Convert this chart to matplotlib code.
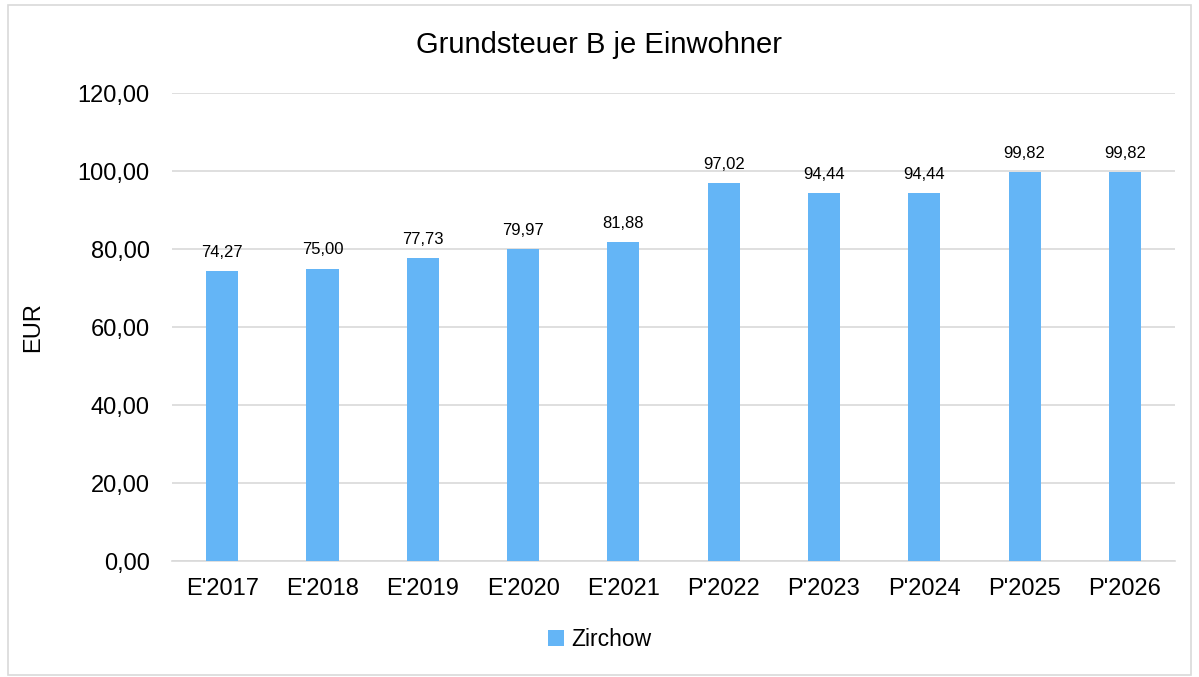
import matplotlib.pyplot as plt
from matplotlib.patches import Rectangle

plt.rcParams['font.family'] = ['Liberation Sans', 'DejaVu Sans']

categories = ["E'2017", "E'2018", "E'2019", "E'2020", "E'2021",
              "P'2022", "P'2023", "P'2024", "P'2025", "P'2026"]
values = [74.27, 75.00, 77.73, 79.97, 81.88, 97.02, 94.44, 94.44, 99.82, 99.82]
series_name = "Zirchow"
yticks = [0, 20, 40, 60, 80, 100, 120]

bar_color = "#64B5F6"
grid_color = "#D9D9D9"


def de_num(v):
    return f"{v:.2f}".replace(".", ",")


fig = plt.figure(figsize=(11.99, 6.77), dpi=100)
ax = fig.add_axes([0.1435, 0.1713, 0.8365, 0.6913])

x = list(range(len(categories)))
bars = ax.bar(x, values, width=0.32, color=bar_color, label=series_name, zorder=3)

for xi, v in zip(x, values):
    ax.annotate(de_num(v), (xi, v), xytext=(0, 8), textcoords="offset points",
                ha="center", va="bottom", fontsize=12, color="#000000")

ax.set_xlim(-0.5, len(categories) - 0.5)
ax.set_ylim(0, 120)
ax.set_yticks(yticks)
ax.set_yticklabels([de_num(t) for t in yticks], fontsize=17)
ax.set_xticks(x)
ax.set_xticklabels(categories, fontsize=17)
ax.tick_params(axis="both", length=0)
ax.tick_params(axis="y", pad=16)
ax.tick_params(axis="x", pad=12)

ax.grid(axis="y", color=grid_color, linewidth=1.2, zorder=0)
for side in ["left", "right", "top"]:
    ax.spines[side].set_visible(False)
ax.spines["bottom"].set_color(grid_color)
ax.spines["bottom"].set_linewidth(1.2)

ax.set_ylabel("EUR", fontsize=17)
ax.yaxis.set_label_coords(-0.128, 0.5)
fig.text(0.5, 0.933, "Grundsteuer B je Einwohner", ha="center", va="center", fontsize=21)

fig.legend(handles=[bars], labels=[series_name], loc="center",
           bbox_to_anchor=(0.5, 0.055), frameon=False, fontsize=16.5,
           handlelength=0.7, handleheight=0.7, handletextpad=0.3)

fig.patches.append(Rectangle((0.007, 0.003), 0.986, 0.99, transform=fig.transFigure,
                             fill=False, edgecolor="#D9D9D9", linewidth=1.2))

fig.savefig("out.png", dpi=100)
